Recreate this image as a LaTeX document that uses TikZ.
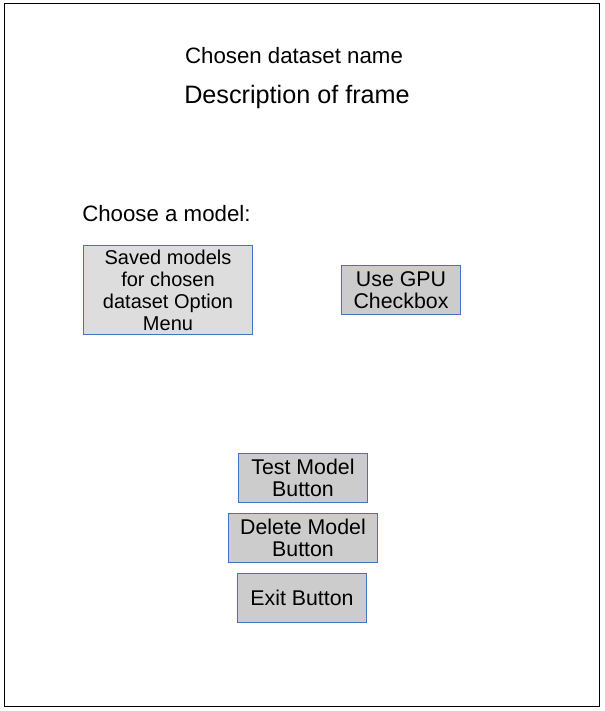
\documentclass[tikz,border=0pt]{standalone}
\usepackage{fontspec}
\setmainfont{Liberation Sans}
\definecolor{boxblue}{HTML}{4472C4}
\definecolor{fillA}{HTML}{DDDDDD}
\definecolor{fillB}{HTML}{CCCCCC}
\begin{document}
\begin{tikzpicture}[x=0.75pt,y=-0.75pt,
  widget/.style={draw=boxblue,line width=0.75pt,fill=fillB,inner sep=0pt,align=center,
    font=\fontsize{16}{16.4}\selectfont,anchor=north west},
  label/.style={inner sep=0pt,anchor=base}]
\useasboundingbox (0,0) rectangle (604,711);
\draw[line width=0.9pt] (4.5,3.5) rectangle (599.5,706.5);
\node[label,font=\fontsize{16.7}{20}\selectfont] (dsname) at (294,63) {Chosen dataset name};
\node[label,font=\fontsize{18.9}{22}\selectfont] (desc) at (297,103) {Description of frame};
\node[label,anchor=base west,font=\fontsize{16.7}{20}\selectfont] (choose) at (82,221) {Choose a model:};
\node[widget,fill=fillA,font=\fontsize{15}{16.5}\selectfont,minimum width=169*0.75pt,minimum height=89*0.75pt] (saved) at (83,245)
  {Saved models\\for chosen\\dataset Option\\Menu};
\node[widget,minimum width=119*0.75pt,minimum height=49*0.75pt] (gpu) at (341,265)
  {Use GPU\\Checkbox};
\node[widget,minimum width=129*0.75pt,minimum height=49*0.75pt] (test) at (238,453)
  {Test Model\\Button};
\node[widget,minimum width=149*0.75pt,minimum height=49*0.75pt] (delete) at (228,513)
  {Delete Model\\Button};
\node[widget,minimum width=129*0.75pt,minimum height=49*0.75pt] (exit) at (237,573)
  {Exit Button};
\end{tikzpicture}
\end{document}
